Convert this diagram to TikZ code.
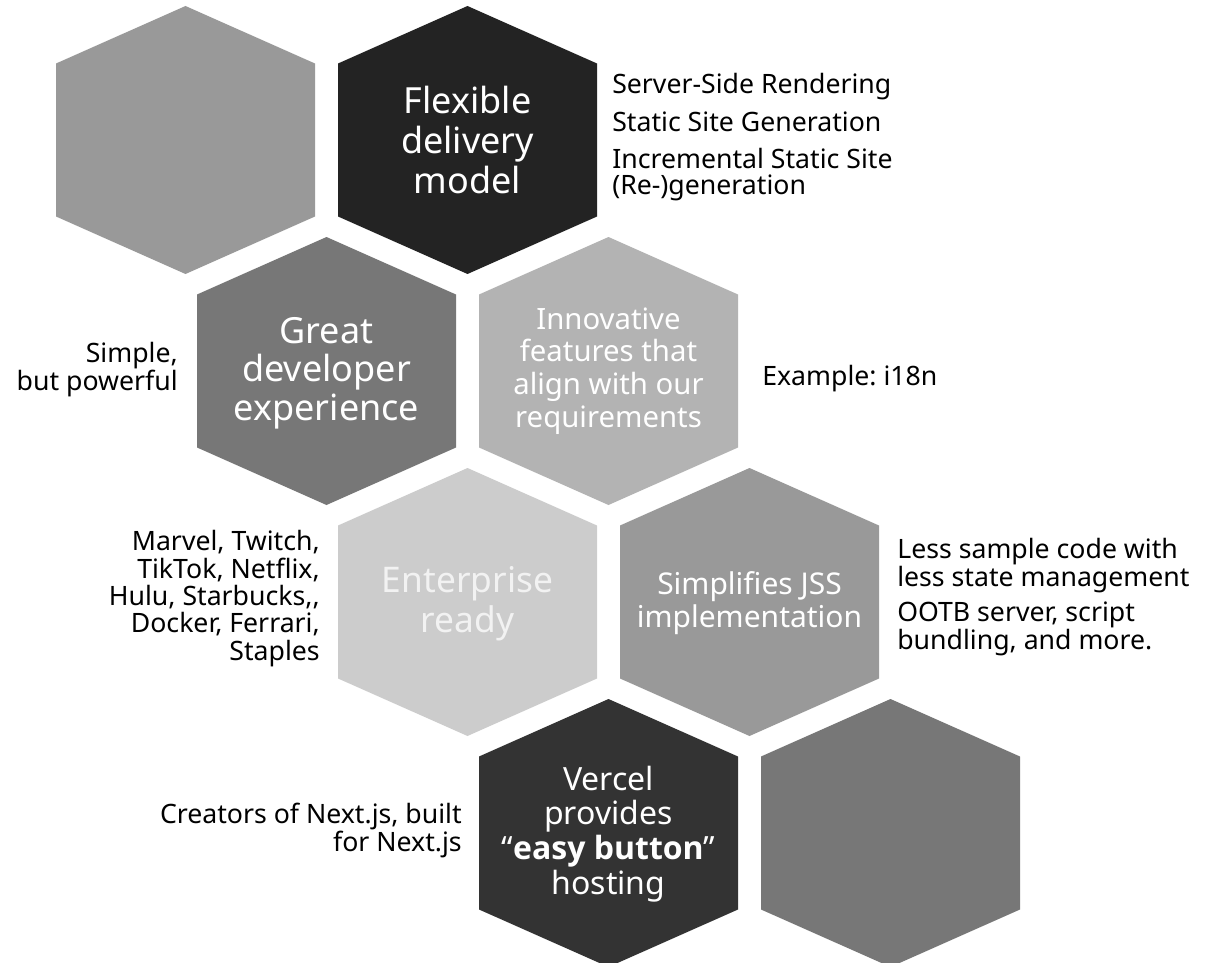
\documentclass[tikz,border=0pt]{standalone}
\usepackage{fontspec}
\setmainfont{Noto Sans}
\IfFontExistsTF{NotoSans-Light.ttf}
  {\newfontfamily\hexfont{NotoSans-Light.ttf}}
  {\newfontfamily\hexfont{Noto Sans}}
\IfFontExistsTF{NotoSans-Bold.ttf}
  {\newfontfamily\strongfont{NotoSans-Bold.ttf}}
  {\newfontfamily\strongfont{Open Sans Bold}}
\usetikzlibrary{positioning}
\frenchspacing

\definecolor{hexdark}{HTML}{232323}
\definecolor{hexcoal}{HTML}{333333}
\definecolor{hexmid}{HTML}{777777}
\definecolor{hexgray}{HTML}{999999}
\definecolor{hexsilver}{HTML}{B3B3B3}
\definecolor{hexlight}{HTML}{CCCCCC}

\tikzset{
  hextext/.style={text=white, align=center, inner sep=0pt},
  note/.style={text=black, inner sep=0pt, font=\fontsize{20}{19.5}\selectfont},
}

% one honeycomb cell: centre x, centre y, colour
\newcommand{\hexcell}[3]{%
  \fill[#3] (#1,#2-134) -- (#1+129.5,#2-76.5) -- (#1+129.5,#2+76.5)
    -- (#1,#2+134) -- (#1-129.5,#2+76.5) -- (#1-129.5,#2-76.5) -- cycle;}

\begin{document}
\begin{tikzpicture}[x=0.75pt, y=-0.75pt]

  \useasboundingbox (0,0) rectangle (1206,963);

  % --- Honeycomb ---
  \foreach \cx/\cy/\col in {185.5/140/hexgray, 467.5/140/hexdark,
      326.5/371/hexmid, 608.5/371/hexsilver,
      467.5/602/hexlight, 749.5/602/hexgray,
      608.5/833/hexcoal, 890.5/833/hexmid}
    \hexcell{\cx}{\cy}{\col};

  % --- Cell titles ---
  \node[hextext, font=\hexfont\fontsize{27}{30}\selectfont] (flexible) at (467.5,140)
    {Flexible\\delivery\\model};
  \node[hextext, font=\hexfont\fontsize{27}{29}\selectfont] (developer) at (326.5,373)
    {Great\\developer\\experience};
  \node[hextext, font=\hexfont\fontsize{22}{24.5}\selectfont] (innovative) at (608.5,371)
    {Innovative\\features that\\align with our\\requirements};
  \node[hextext, text=white!95!black, font=\hexfont\fontsize{26.5}{30}\selectfont] (enterprise) at (467.5,604)
    {Enterprise\\ready};
  \node[hextext, font=\hexfont\fontsize{22.5}{25}\selectfont] (jss) at (749.5,603)
    {Simplifies JSS\\implementation};
  \node[hextext, font=\hexfont\fontsize{24}{26}\selectfont] (vercel) at (608.5,834)
    {Vercel\\provides\\“{\strongfont easy button}”\\hosting};

  % --- Side notes ---
  \node[note, anchor=base west] (ssr) at (612,94) {Server-Side Rendering};
  \node[note, anchor=base west] (ssg) at (612,132) {Static Site Generation};
  \node[note, anchor=base west, align=left] (isr) at (612,195)
    {Incremental Static Site\\(Re-)generation};
  \node[note, anchor=base east, align=right, font=\fontsize{20}{21}\selectfont] (simple) at (178,390)
    {Simple,\\but powerful};
  \node[note, anchor=base west] (i18n) at (762,385) {Example: i18n};
  \node[note, anchor=base east, align=right, font=\fontsize{20}{20.5}\selectfont] (brands) at (320,660)
    {Marvel, Twitch,\\TikTok, Netflix,\\Hulu, Starbucks,{},\\Docker, Ferrari,\\Staples};
  \node[note, anchor=base west, align=left] (sample) at (897,586)
    {Less sample code with\\less state management};
  \node[note, anchor=base west, align=left] (ootb) at (897,649)
    {OOTB server, script\\bundling, and more.};
  \node[note, anchor=base east, align=right, font=\fontsize{20}{21}\selectfont] (creators) at (462,851)
    {Creators of Next.js, built\\for Next.js};

\end{tikzpicture}
\end{document}
